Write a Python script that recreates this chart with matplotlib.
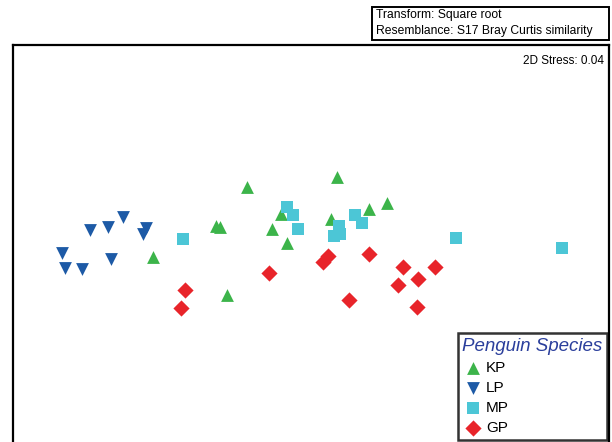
import matplotlib
matplotlib.use('Agg')
import matplotlib.pyplot as plt
from matplotlib.patches import Rectangle

plt.rcParams['font.family'] = ['Liberation Sans', 'DejaVu Sans']

# MDS ordination positions (screen-like units)
kp_x = [153, 247, 337, 216, 220, 281, 272, 287, 331, 369, 387, 227]
kp_y = [257, 187, 177, 226, 227, 214, 229, 243, 219, 209, 203, 295]
lp_x = [123, 90, 108, 146, 143, 62, 65, 82, 111]
lp_y = [217, 230, 227, 228, 234, 253, 268, 269, 259]
mp_x = [183, 287, 293, 298, 334, 339, 340, 355, 362, 456, 562]
mp_y = [239, 207, 215, 229, 236, 226, 234, 215, 223, 238, 248]
gp_x = [185, 181, 269, 323, 328, 369, 403, 435, 418, 398, 349, 417]
gp_y = [290, 308, 273, 262, 256, 254, 267, 267, 279, 285, 300, 307]

species = ['KP', 'LP', 'MP', 'GP']
colors = ['#3cb44a', '#1d5aa6', '#4cc6d6', '#e8242a']
markers = ['^', 'v', 's', 'D']
sizes = [85, 85, 68, 68]

W, H = 612, 442
fig = plt.figure(figsize=(W / 100, H / 100), dpi=100)
ax = fig.add_axes([13 / W, 0, 596 / W, (H - 45) / H])
ax.set_xlim(13, 609)
ax.set_ylim(H, 45)
ax.set_xticks([])
ax.set_yticks([])
for side in ['left', 'top', 'right']:
    ax.spines[side].set_linewidth(1.6)
ax.spines['bottom'].set_visible(False)

data = [(kp_x, kp_y), (lp_x, lp_y), (mp_x, mp_y), (gp_x, gp_y)]
handles = []
for (xs, ys), name, c, m, s in zip(data, species, colors, markers, sizes):
    h = ax.scatter(xs, ys, s=s, c=c, marker=m, linewidths=0, label=name)
    handles.append(h)

ax.text(0.992, 0.975, '2D Stress: 0.04', transform=ax.transAxes,
        ha='right', va='top', fontsize=8.5)

leg = ax.legend(handles=handles, loc='lower right', bbox_to_anchor=(0.997, 0.005),
                title='Penguin Species', fontsize=11, frameon=True,
                fancybox=False, borderpad=0.3, labelspacing=0.4,
                handletextpad=0.15, handlelength=1.4, borderaxespad=0.0)
leg.get_frame().set_edgecolor('black')
leg.get_frame().set_linewidth(1.8)
leg.get_title().set_fontstyle('italic')
leg.get_title().set_color('#2b3f9c')
leg.get_title().set_fontsize(13.5)
leg._legend_box.align = 'left'

# transform / resemblance box
fig.patches.append(Rectangle((372 / W, 1 - 40 / H), 237 / W, 33 / H,
                             transform=fig.transFigure, fill=False,
                             edgecolor='black', linewidth=1.4))
fig.text(376 / W, 1 - 15 / H, 'Transform: Square root', fontsize=8.7, va='center')
fig.text(376 / W, 1 - 31 / H, 'Resemblance: S17 Bray Curtis similarity',
         fontsize=8.7, va='center')

fig.savefig('out.png', dpi=100)
